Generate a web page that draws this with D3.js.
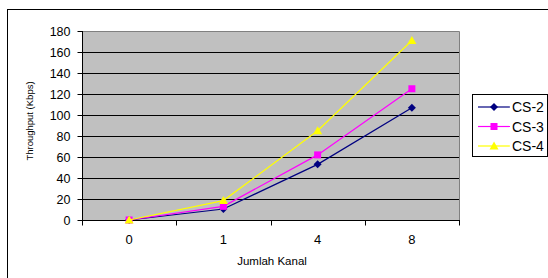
<!DOCTYPE html>
<html>
<head>
<meta charset="utf-8">
<script src="https://cdn.jsdelivr.net/npm/d3@7"></script>
<style>
  html, body { margin: 0; padding: 0; background: #fff; }
  svg { display: block; font-family: Arial, "Liberation Sans", sans-serif; }
</style>
</head>
<body>
<div id="chart"></div>
<script>
// Data
const categories = ["0", "1", "4", "8"];
const seriesNames = ["CS-2", "CS-3", "CS-4"];
const cs2 = [0, 10.5, 53, 107];
const cs3 = [0, 13, 62, 125];
const cs4 = [0, 18.5, 85, 171];
const yTicks = [0, 20, 40, 60, 80, 100, 120, 140, 160, 180];

const seriesValues = [cs2, cs3, cs4];
const colors = ["#000080", "#ff00ff", "#ffff00"];

const width = 548, height = 278;
const plot = { left: 82, top: 31, right: 459, bottom: 220 };

const svg = d3.select("#chart")
    .append("svg")
    .attr("width", width)
    .attr("height", height);

// Outer chart border
svg.append("rect")
    .attr("x", 7.5).attr("y", 9.5)
    .attr("width", 560).attr("height", 290)
    .attr("fill", "#fff")
    .attr("stroke", "#000");

const x = d3.scaleBand()
    .domain(categories)
    .range([plot.left, plot.right]);

const y = d3.scaleLinear()
    .domain([0, 180])
    .range([plot.bottom, plot.top]);

// Plot background
svg.append("rect")
    .attr("x", plot.left).attr("y", plot.top)
    .attr("width", plot.right - plot.left)
    .attr("height", plot.bottom - plot.top)
    .attr("fill", "#c0c0c0");

// Gridlines
svg.append("g")
    .selectAll("line")
    .data(yTicks.filter(d => d > 0 && d < 180))
    .join("line")
    .attr("x1", plot.left).attr("x2", plot.right)
    .attr("y1", d => Math.round(y(d)) + 0.5)
    .attr("y2", d => Math.round(y(d)) + 0.5)
    .attr("stroke", "#000")
    .attr("stroke-width", 1);

// Top & right plot border (gray)
svg.append("path")
    .attr("d", `M${plot.left},${plot.top + 0.5}H${plot.right + 0.5}V${plot.bottom}`)
    .attr("fill", "none")
    .attr("stroke", "#808080");

// Y axis
const yAxis = svg.append("g")
    .attr("transform", `translate(${plot.left + 0.5},0)`)
    .call(d3.axisLeft(y).tickValues(yTicks).tickSize(5).tickPadding(7));
yAxis.select(".domain").attr("stroke", "#000").attr("d", `M0,${plot.top}V${plot.bottom}`);
yAxis.selectAll(".tick line").attr("stroke", "#000");
yAxis.selectAll(".tick text")
    .attr("font-size", 12.5)
    .attr("font-family", "Arial, 'Liberation Sans', sans-serif")
    .attr("fill", "#000");

// X axis
const xAxis = svg.append("g")
    .attr("transform", `translate(0,${plot.bottom + 0.5})`);
xAxis.append("line")
    .attr("x1", plot.left).attr("x2", plot.right + 1)
    .attr("stroke", "#000");
xAxis.selectAll("line.tk")
    .data(categories.map(c => x(c)).concat([plot.right]))
    .join("line")
    .attr("class", "tk")
    .attr("x1", d => Math.round(d) + 0.5).attr("x2", d => Math.round(d) + 0.5)
    .attr("y1", 0).attr("y2", 5)
    .attr("stroke", "#000");
xAxis.selectAll("text")
    .data(categories)
    .join("text")
    .attr("x", d => x(d) + x.bandwidth() / 2)
    .attr("y", 23)
    .attr("text-anchor", "middle")
    .attr("font-size", 13)
    .text(d => d);

// Axis titles
svg.append("text")
    .attr("transform", "translate(33,121) rotate(-90)")
    .attr("text-anchor", "middle")
    .attr("font-size", 9.5)
    .text("Throughput (Kbps)");

svg.append("text")
    .attr("x", 272).attr("y", 265)
    .attr("text-anchor", "middle")
    .attr("font-size", 11.5)
    .text("Jumlah Kanal");

// Markers
function drawMarker(g, i, cx, cy) {
    if (i === 0) {
        g.append("path")
            .attr("d", `M${cx},${cy - 4}L${cx + 4},${cy}L${cx},${cy + 4}L${cx - 4},${cy}Z`)
            .attr("fill", colors[i]);
    } else if (i === 1) {
        g.append("rect")
            .attr("x", cx - 3.5).attr("y", cy - 3.5)
            .attr("width", 7).attr("height", 7)
            .attr("fill", colors[i]);
    } else {
        g.append("path")
            .attr("d", `M${cx},${cy - 4.5}L${cx + 4.5},${cy + 3.5}L${cx - 4.5},${cy + 3.5}Z`)
            .attr("fill", colors[i]);
    }
}

const line = d3.line()
    .x((d, j) => x(categories[j]) + x.bandwidth() / 2)
    .y(d => y(d));

seriesValues.forEach((vals, i) => {
    const g = svg.append("g");
    g.append("path")
        .attr("d", line(vals))
        .attr("fill", "none")
        .attr("stroke", colors[i])
        .attr("stroke-width", 1.2);
    vals.forEach((v, j) => drawMarker(g, i, x(categories[j]) + x.bandwidth() / 2, y(v)));
});

// Legend
const legend = svg.append("g");
legend.append("rect")
    .attr("x", 472.5).attr("y", 94.5)
    .attr("width", 75).attr("height", 62)
    .attr("fill", "#fff")
    .attr("stroke", "#000");

seriesNames.forEach((name, i) => {
    const ly = 107 + i * 19.5;
    legend.append("line")
        .attr("x1", 478).attr("x2", 510)
        .attr("y1", ly).attr("y2", ly)
        .attr("stroke", colors[i])
        .attr("stroke-width", 1.2);
    drawMarker(legend, i, 494, ly);
    legend.append("text")
        .attr("x", 512).attr("y", ly + 5)
        .attr("font-size", 14)
        .text(name);
});
</script>
</body>
</html>
